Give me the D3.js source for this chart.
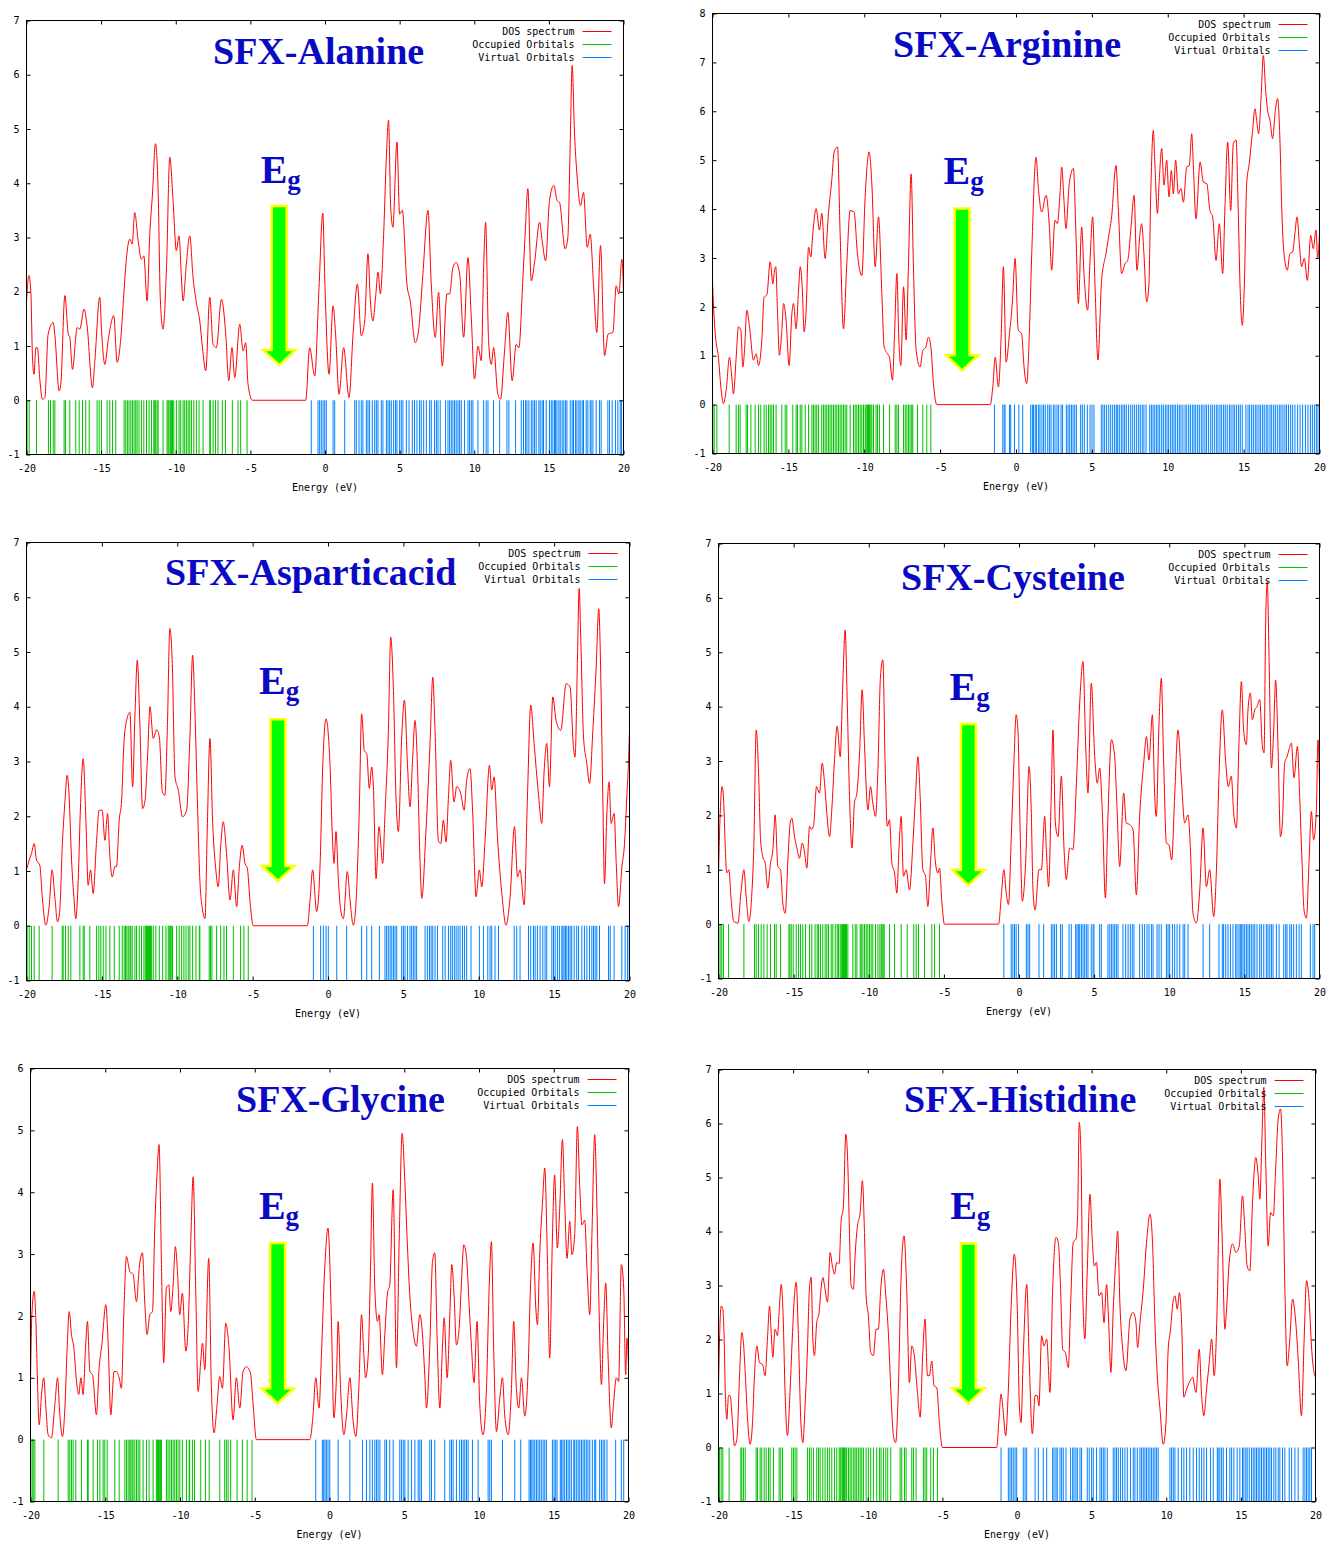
<!DOCTYPE html>
<html>
<head>
<meta charset="utf-8">
<script src="https://cdn.jsdelivr.net/npm/d3@7"></script>
<style>
  body { margin: 0; background: #fff; }
  svg { display: block; }
</style>
</head>
<body>
<svg id="chart" width="1328" height="1543"></svg>
<script>
// ---------------------------------------------------------------
// Density-of-states spectra (energy in eV, DOS in arbitrary units)
// and the orbital energies of six SFX amino-acid systems.
// ---------------------------------------------------------------

const energyTicks = [-20, -15, -10, -5, 0, 5, 10, 15, 20];
const legendLabels = ["DOS spectrum", "Occupied Orbitals", "Virtual Orbitals"];
const panelTitles = ["SFX-Alanine", "SFX-Arginine", "SFX-Asparticacid", "SFX-Cysteine", "SFX-Glycine", "SFX-Histidine"];

// ---- Alanine ----
const alanineDOS = [[-20,1.83],[-19.84,2.3],[-19.71,2.0],[-19.6,0.8],[-19.5,0.48],[-19.37,0.97],[-19.27,0.97],[-19.1,0.36],[-18.93,0.02],[-18.77,0.05],[-18.55,1.22],[-18.21,1.43],[-18.1,1.2],[-17.81,0.17],[-17.7,0.3],[-17.43,1.93],[-17.2,1.22],[-17.1,1.16],[-16.92,0.57],[-16.6,1.34],[-16.43,1.31],[-16.14,1.68],[-15.94,1.37],[-15.58,0.23],[-15.42,0.73],[-15.09,1.9],[-14.96,1.22],[-14.75,0.66],[-14.53,1.1],[-14.15,1.56],[-13.93,0.7],[-13.64,1.28],[-13.48,1.96],[-13.3,2.63],[-13.08,2.97],[-12.92,2.88],[-12.75,3.46],[-12.52,2.94],[-12.3,2.6],[-12.14,2.66],[-11.92,1.83],[-11.74,3.06],[-11.56,3.8],[-11.36,4.73],[-11.18,3.86],[-11.03,1.83],[-10.85,1.31],[-10.62,2.45],[-10.4,4.48],[-10.18,3.68],[-9.96,2.76],[-9.78,3.03],[-9.62,2.26],[-9.51,1.83],[-9.29,2.51],[-9.06,3.03],[-8.84,2.26],[-8.62,1.8],[-8.39,1.46],[-8.21,0.97],[-7.99,0.54],[-7.72,1.9],[-7.5,1.03],[-7.28,0.97],[-6.94,1.86],[-6.65,1.22],[-6.45,0.36],[-6.23,0.97],[-6.05,0.42],[-5.71,1.4],[-5.49,0.91],[-5.31,1.06],[-5.16,0.3],[-4.87,0],[-1.29,0],[-1.03,0.97],[-0.69,0.45],[-0.4,2.08],[-0.15,3.45],[0.0,2.08],[0.27,0.48],[0.54,1.74],[0.71,1.22],[0.94,0.11],[1.25,0.97],[1.61,0.05],[1.88,1.22],[2.17,2.14],[2.43,1.19],[2.66,1.46],[2.88,2.7],[3.04,1.83],[3.21,1.46],[3.39,1.9],[3.55,2.36],[3.71,1.96],[3.93,3.06],[4.11,4.48],[4.26,5.16],[4.4,3.56],[4.55,3.19],[4.82,4.76],[5.0,3.43],[5.18,3.5],[5.49,2.14],[5.71,1.83],[6.05,1.06],[6.29,1.34],[6.56,2.33],[6.9,3.5],[7.12,2.14],[7.39,1.16],[7.61,1.99],[7.86,0.63],[8.17,1.96],[8.35,1.96],[8.57,2.45],[8.79,2.54],[9.02,2.33],[9.29,1.16],[9.58,2.63],[9.8,1.53],[10.02,0.39],[10.25,1.0],[10.47,0.73],[10.63,2.45],[10.76,3.28],[10.96,1.1],[11.14,0.66],[11.3,0.97],[11.58,0.11],[11.76,0.02],[12.03,0.91],[12.25,1.62],[12.54,0.36],[12.81,1.03],[12.99,0.97],[13.26,2.26],[13.41,3.06],[13.59,3.9],[13.82,2.2],[14.04,2.54],[14.38,3.28],[14.55,2.94],[14.78,2.57],[15.04,3.68],[15.33,3.96],[15.56,3.68],[15.71,3.65],[16.09,2.79],[16.27,3.0],[16.43,4.73],[16.56,6.17],[16.72,4.91],[16.88,4.17],[17.12,3.59],[17.32,3.83],[17.57,2.82],[17.77,3.06],[17.99,2.14],[18.21,1.25],[18.46,2.85],[18.73,0.82],[18.97,1.22],[19.29,1.25],[19.51,2.11],[19.69,1.96],[19.89,2.6],[20,2.0]];
const alanineOccupied = [-19.96,-19.82,-19.33,-18.53,-18.39,-18.21,-18.10,-17.48,-17.39,-17.10,-16.70,-16.47,-16.25,-16.03,-15.80,-15.27,-15.13,-14.98,-14.60,-14.42,-14.24,-14.02,-13.46,-13.35,-13.24,-13.13,-13.01,-12.90,-12.79,-12.68,-12.59,-12.46,-12.30,-12.14,-11.96,-11.79,-11.63,-11.47,-11.41,-11.34,-11.25,-11.18,-10.85,-10.58,-10.51,-10.45,-10.36,-10.29,-10.22,-10.13,-9.96,-9.78,-9.67,-9.51,-9.40,-9.29,-9.17,-9.06,-8.95,-8.79,-8.62,-8.44,-8.17,-7.72,-7.68,-7.50,-7.34,-7.17,-6.88,-6.67,-6.21,-5.83,-5.65,-5.22];
const alanineVirtual = [-0.92,-0.47,-0.36,-0.25,-0.13,-0.02,0.09,0.54,0.65,1.32,1.99,2.10,2.28,2.43,2.54,2.77,2.88,2.99,3.17,3.33,3.44,3.55,3.77,3.88,4.11,4.22,4.33,4.44,4.60,4.73,4.82,5.00,5.11,5.22,5.45,5.63,5.85,6.00,6.16,6.34,6.45,6.61,6.79,7.01,7.12,7.34,7.46,7.57,7.72,8.08,8.24,8.35,8.46,8.57,8.68,8.79,8.91,9.02,9.13,9.35,9.58,9.69,9.80,9.91,10.25,10.63,10.80,10.92,11.29,11.70,12.19,12.32,12.77,13.15,13.30,13.44,13.53,13.66,13.82,13.93,14.04,14.15,14.33,14.42,14.55,14.64,14.82,15.04,15.16,15.27,15.38,15.45,15.54,15.67,15.76,15.89,16.00,16.12,16.21,16.43,16.56,16.65,16.79,16.88,17.01,17.10,17.23,17.32,17.50,17.61,17.77,17.83,17.95,18.17,18.39,18.50,18.95,19.06,19.24,19.46,19.62,19.78,19.87];

// ---- Arginine ----
const arginineDOS = [[-20,2.54],[-19.93,2.0],[-19.82,1.45],[-19.6,0.94],[-19.45,0.36],[-19.28,0.02],[-19.1,0.29],[-18.88,0.97],[-18.73,0.57],[-18.62,0.22],[-18.44,0.97],[-18.29,1.59],[-18.13,1.52],[-18.0,0.77],[-17.89,1.11],[-17.74,1.93],[-17.56,1.59],[-17.3,0.91],[-17.12,1.04],[-16.97,0.8],[-16.75,1.32],[-16.6,2.2],[-16.42,2.24],[-16.2,2.92],[-16.02,2.47],[-15.94,2.68],[-15.83,2.82],[-15.72,1.93],[-15.59,1.01],[-15.43,1.52],[-15.32,2.07],[-15.15,1.72],[-14.95,0.8],[-14.77,1.86],[-14.66,2.07],[-14.49,1.55],[-14.33,2.34],[-14.22,2.82],[-14.09,2.41],[-13.96,1.49],[-13.83,1.93],[-13.67,3.22],[-13.52,3.02],[-13.39,3.5],[-13.17,4.01],[-12.95,3.57],[-12.8,3.91],[-12.58,2.99],[-12.36,3.91],[-12.14,4.59],[-11.98,5.17],[-11.76,5.27],[-11.59,3.5],[-11.37,1.55],[-11.15,2.88],[-10.93,3.97],[-10.67,3.94],[-10.45,3.09],[-10.16,2.64],[-9.94,4.25],[-9.68,5.17],[-9.5,4.52],[-9.28,2.82],[-9.06,3.84],[-8.84,2.27],[-8.69,1.18],[-8.47,1.04],[-8.34,0.97],[-8.14,0.5],[-8.01,1.38],[-7.85,2.68],[-7.72,1.32],[-7.59,0.8],[-7.41,2.41],[-7.24,1.32],[-7.09,2.82],[-6.91,4.72],[-6.76,2.82],[-6.58,1.11],[-6.32,0.77],[-6.14,1.11],[-5.94,1.18],[-5.77,1.38],[-5.61,1.18],[-5.44,0.43],[-5.22,0],[-1.7,0],[-1.53,0.36],[-1.37,0.97],[-1.16,0.36],[-0.98,1.38],[-0.83,2.82],[-0.65,0.87],[-0.43,1.45],[-0.23,2.13],[-0.06,2.99],[0.15,1.52],[0.37,1.45],[0.53,0.77],[0.7,0.43],[0.88,1.45],[1.03,3.02],[1.32,5.06],[1.47,4.45],[1.69,3.94],[1.98,4.28],[2.2,3.63],[2.35,2.75],[2.57,3.77],[2.72,3.7],[2.9,4.31],[3.01,4.86],[3.16,4.18],[3.29,3.6],[3.51,4.52],[3.78,4.83],[3.95,3.5],[4.11,2.07],[4.33,3.63],[4.48,2.68],[4.72,1.93],[4.88,2.95],[5.05,3.84],[5.21,2.41],[5.4,0.91],[5.64,2.54],[5.93,3.09],[6.08,3.39],[6.3,3.84],[6.59,4.89],[6.74,4.04],[6.96,2.68],[7.18,2.88],[7.36,2.95],[7.58,3.63],[7.78,4.28],[7.97,2.75],[8.17,3.5],[8.28,3.7],[8.43,3.09],[8.61,2.1],[8.76,2.47],[8.87,4.18],[9.05,5.61],[9.16,4.86],[9.32,3.91],[9.44,4.59],[9.6,5.24],[9.75,4.49],[9.93,5.0],[10.08,4.25],[10.24,4.79],[10.37,4.31],[10.52,5.0],[10.7,4.31],[10.87,4.42],[11.03,4.14],[11.25,4.86],[11.42,4.89],[11.58,5.54],[11.69,4.86],[11.86,3.8],[12.13,4.96],[12.35,4.55],[12.57,4.52],[12.78,3.97],[12.96,3.84],[13.18,2.95],[13.4,3.7],[13.62,2.68],[13.77,4.04],[13.95,5.37],[14.15,3.97],[14.32,5.34],[14.5,5.41],[14.65,3.91],[14.76,2.47],[14.91,1.62],[15.05,2.47],[15.2,4.52],[15.37,4.93],[15.57,5.54],[15.75,6.05],[15.86,5.81],[15.99,5.54],[16.14,6.22],[16.3,7.14],[16.45,6.43],[16.58,6.02],[16.74,5.81],[16.91,5.44],[17.09,6.02],[17.24,6.26],[17.4,5.34],[17.51,4.04],[17.66,3.09],[17.88,2.75],[18.05,3.09],[18.23,3.12],[18.38,3.5],[18.52,3.84],[18.67,3.29],[18.82,2.82],[19.0,2.99],[19.2,2.54],[19.42,3.46],[19.59,3.19],[19.77,3.57],[19.88,2.99],[20,3.5]];
const arginineOccupied = [-19.98,-19.89,-19.71,-18.90,-18.44,-18.29,-18.18,-17.78,-17.69,-17.47,-17.19,-16.97,-16.82,-16.60,-16.46,-16.31,-16.20,-16.09,-15.98,-15.81,-15.43,-15.21,-15.10,-14.71,-14.49,-14.40,-14.22,-14.11,-13.89,-13.67,-13.45,-13.35,-13.24,-13.13,-13.02,-12.80,-12.69,-12.58,-12.47,-12.36,-12.25,-12.14,-12.03,-11.92,-11.81,-11.70,-11.59,-11.48,-11.37,-11.26,-11.15,-10.93,-10.71,-10.60,-10.49,-10.38,-10.27,-10.16,-10.05,-9.94,-9.87,-9.79,-9.72,-9.66,-9.57,-9.50,-9.39,-9.22,-9.13,-9.00,-8.73,-8.34,-7.96,-7.85,-7.74,-7.41,-7.30,-7.19,-7.08,-6.98,-6.87,-6.80,-6.49,-6.14,-5.88,-5.61];
const arginineVirtual = [-1.42,-0.87,-0.78,-0.72,-0.43,-0.35,-0.1,0.19,0.44,0.97,1.08,1.16,1.27,1.36,1.49,1.58,1.71,1.82,1.93,2.09,2.20,2.31,2.46,2.57,2.70,2.81,2.97,3.07,3.32,3.43,3.54,3.65,3.76,3.87,3.98,4.26,4.37,4.50,4.70,4.88,5.01,5.14,5.62,5.73,5.84,5.97,6.11,6.24,6.37,6.50,6.61,6.70,6.81,6.94,7.05,7.16,7.27,7.42,7.56,7.69,7.82,7.95,8.08,8.19,8.32,8.43,8.57,8.81,8.92,9.03,9.14,9.25,9.36,9.47,9.60,9.71,9.84,9.95,10.06,10.19,10.30,10.41,10.52,10.65,10.76,10.87,11.00,11.14,11.25,11.38,11.49,11.62,11.73,11.84,11.97,12.08,12.21,12.32,12.45,12.56,12.69,12.83,12.94,13.07,13.20,13.31,13.44,13.55,13.68,13.79,13.92,14.06,14.17,14.30,14.41,14.54,14.67,14.78,14.91,15.15,15.29,15.40,15.53,15.64,15.77,15.88,16.01,16.12,16.25,16.36,16.49,16.60,16.74,16.85,16.98,17.09,17.22,17.35,17.46,17.59,17.72,17.83,17.96,18.10,18.23,18.38,18.56,18.72,18.89,19.07,19.24,19.40,19.53,19.66,19.79,19.90];

// ---- Aspartic acid ----
const asparticDOS = [[-20,1.02],[-19.82,1.2],[-19.67,1.32],[-19.49,1.5],[-19.34,1.2],[-19.12,1.11],[-18.94,0.47],[-18.72,0.01],[-18.5,0.35],[-18.3,1.02],[-18.12,0.53],[-17.94,0.07],[-17.79,0.29],[-17.63,1.44],[-17.46,2.23],[-17.3,2.75],[-17.17,2.35],[-17.01,1.2],[-16.86,0.53],[-16.73,0.13],[-16.57,0.83],[-16.42,2.17],[-16.24,3.05],[-16.06,1.93],[-15.91,0.74],[-15.75,1.02],[-15.58,0.59],[-15.35,1.56],[-15.18,2.11],[-14.98,2.11],[-14.8,1.56],[-14.62,2.05],[-14.47,1.26],[-14.31,0.89],[-14.14,1.08],[-14.03,1.08],[-13.85,1.93],[-13.69,2.29],[-13.54,3.33],[-13.36,3.75],[-13.14,3.9],[-12.96,2.54],[-12.81,3.81],[-12.65,4.85],[-12.48,3.69],[-12.3,2.14],[-12.15,2.26],[-11.97,3.08],[-11.81,4.0],[-11.59,3.42],[-11.37,3.58],[-11.19,3.45],[-10.99,2.45],[-10.82,2.38],[-10.66,3.57],[-10.49,5.43],[-10.33,4.79],[-10.15,2.72],[-9.93,2.48],[-9.65,1.99],[-9.38,2.11],[-9.16,3.45],[-8.98,4.94],[-8.83,3.94],[-8.67,2.35],[-8.5,0.83],[-8.32,0.29],[-8.16,0.13],[-8.01,1.75],[-7.83,3.42],[-7.65,1.87],[-7.46,1.08],[-7.28,0.71],[-7.12,1.44],[-6.95,1.9],[-6.73,1.32],[-6.5,0.47],[-6.28,1.02],[-6.06,0.35],[-5.88,1.08],[-5.69,1.47],[-5.51,1.14],[-5.35,1.05],[-5.18,0.47],[-4.96,0],[-1.37,0],[-1.19,0.47],[-1.02,1.02],[-0.75,0.26],[-0.53,1.08],[-0.35,2.9],[-0.13,3.78],[0.13,2.96],[0.31,1.5],[0.4,1.14],[0.53,1.72],[0.69,0.83],[0.84,0.29],[1.02,0.13],[1.28,0.99],[1.46,0.47],[1.68,0.01],[1.9,0.65],[2.08,2.17],[2.23,3.87],[2.41,3.2],[2.57,3.14],[2.74,2.51],[2.9,2.9],[3.01,2.54],[3.19,0.86],[3.38,1.81],[3.63,1.14],[3.78,2.05],[4.0,3.51],[4.16,5.27],[4.34,4.3],[4.51,2.35],[4.67,1.72],[4.89,3.45],[5.07,4.12],[5.27,2.96],[5.44,2.17],[5.62,3.08],[5.77,3.75],[5.93,2.96],[6.11,1.14],[6.22,0.5],[6.5,1.75],[6.77,3.33],[6.95,4.54],[7.1,3.57],[7.32,1.56],[7.48,1.5],[7.65,1.93],[7.83,1.53],[7.99,2.35],[8.14,3.02],[8.36,2.26],[8.54,2.54],[8.81,2.41],[9.03,2.11],[9.2,2.66],[9.42,2.87],[9.6,2.05],[9.82,0.53],[10.04,1.02],[10.2,0.71],[10.42,1.56],[10.71,2.93],[10.86,2.48],[11.02,2.72],[11.24,1.62],[11.53,0.59],[11.81,0.01],[12.08,0.53],[12.37,1.81],[12.57,0.89],[12.74,1.02],[13.01,0.38],[13.23,2.35],[13.45,4.03],[13.67,3.33],[13.96,2.41],[14.18,1.87],[14.34,2.84],[14.51,3.33],[14.69,2.54],[14.91,4.18],[15.13,3.75],[15.44,3.57],[15.8,4.42],[16.06,4.36],[16.28,3.27],[16.39,3.08],[16.55,4.91],[16.66,6.16],[16.77,5.21],[16.95,3.45],[17.17,2.96],[17.35,2.6],[17.57,3.57],[17.79,4.73],[17.96,5.79],[18.12,4.18],[18.23,2.35],[18.34,0.77],[18.5,2.05],[18.65,2.63],[18.78,1.87],[18.98,2.05],[19.12,1.14],[19.27,0.35],[19.5,1.08],[19.67,1.5],[19.82,2.35],[19.93,2.96],[20,3.57]];
const asparticOccupied = [-19.96,-19.82,-19.67,-19.49,-19.16,-18.30,-17.63,-17.57,-17.41,-17.23,-17.06,-16.46,-16.24,-16.17,-15.80,-15.35,-15.20,-15.07,-14.91,-14.73,-14.47,-14.18,-13.85,-13.65,-13.52,-13.43,-13.34,-13.25,-13.14,-13.08,-12.99,-12.81,-12.70,-12.52,-12.37,-12.21,-12.12,-12.04,-11.97,-11.90,-11.84,-11.77,-11.70,-11.59,-11.42,-11.19,-10.97,-10.75,-10.60,-10.53,-10.46,-10.40,-10.31,-10.04,-9.87,-9.71,-9.56,-9.42,-9.27,-9.16,-8.98,-8.76,-8.54,-8.50,-7.88,-7.79,-7.70,-7.39,-7.12,-6.90,-6.73,-6.28,-5.80,-5.58,-5.29];
const asparticVirtual = [-0.97,-0.49,-0.31,-0.13,0.02,0.58,1.24,2.23,2.57,2.90,3.41,3.78,3.89,4.00,4.12,4.23,4.34,4.45,4.56,4.89,5.00,5.11,5.27,5.44,5.55,5.66,5.77,5.88,6.44,6.59,6.73,6.84,6.95,7.10,7.26,7.61,7.77,7.99,8.14,8.25,8.38,8.50,8.63,8.76,8.92,9.05,9.20,9.49,10.04,10.31,10.60,10.75,10.86,11.08,11.31,12.35,12.52,12.74,13.30,13.45,13.63,13.74,13.89,14.07,14.25,14.40,14.51,14.85,14.96,15.07,15.22,15.35,15.51,15.58,15.66,15.75,15.84,15.95,16.06,16.17,16.33,16.50,16.62,16.84,17.01,17.17,17.35,17.50,17.61,17.72,17.83,18.01,18.61,18.72,18.98,19.49,19.71,19.87,19.98];

// ---- Cysteine ----
const cysteineDOS = [[-20,0.88],[-19.91,1.86],[-19.76,2.53],[-19.65,2.23],[-19.56,1.49],[-19.45,0.94],[-19.31,1.0],[-19.16,0.45],[-18.98,0.05],[-18.71,0.02],[-18.49,0.63],[-18.31,1.0],[-18.16,0.51],[-17.98,0.05],[-17.78,0.57],[-17.65,1.43],[-17.49,3.57],[-17.34,2.84],[-17.2,1.55],[-17.05,1.24],[-16.89,1.12],[-16.72,0.66],[-16.54,1.12],[-16.38,1.37],[-16.23,2.01],[-16.05,1.06],[-15.87,1.0],[-15.72,0.39],[-15.56,0.2],[-15.38,1.18],[-15.23,1.86],[-15.12,1.95],[-14.94,1.61],[-14.76,1.37],[-14.61,1.21],[-14.43,1.49],[-14.28,1.34],[-14.12,1.03],[-13.94,1.8],[-13.79,1.74],[-13.65,1.86],[-13.48,2.53],[-13.28,2.41],[-13.1,2.96],[-12.94,2.59],[-12.79,2.04],[-12.61,1.61],[-12.46,2.1],[-12.28,3.02],[-12.1,3.64],[-11.9,3.08],[-11.72,4.49],[-11.57,5.41],[-11.44,4.19],[-11.28,2.35],[-11.12,1.4],[-10.95,2.23],[-10.79,2.41],[-10.61,3.15],[-10.44,4.31],[-10.28,3.27],[-10.06,2.1],[-9.88,2.53],[-9.73,2.23],[-9.55,1.98],[-9.39,2.84],[-9.22,4.56],[-9.06,4.86],[-8.91,2.96],[-8.77,1.8],[-8.62,1.92],[-8.46,1.12],[-8.28,0.94],[-8.13,0.57],[-7.99,1.37],[-7.84,1.98],[-7.69,0.88],[-7.51,1.0],[-7.29,0.63],[-7.06,1.49],[-6.89,2.35],[-6.73,3.08],[-6.58,2.35],[-6.4,1.0],[-6.22,0.88],[-6.07,0.32],[-5.89,1.12],[-5.73,1.77],[-5.58,1.18],[-5.4,0.94],[-5.29,1.03],[-5.13,0.39],[-4.96,0],[-1.36,0],[-1.18,0.51],[-1.01,1.0],[-0.85,0.57],[-0.7,0.36],[-0.52,1.55],[-0.34,2.96],[-0.19,3.85],[-0.07,3.57],[0.09,1.55],[0.22,0.42],[0.44,1.12],[0.67,2.9],[0.82,2.04],[0.93,0.63],[1.07,0.26],[1.33,1.0],[1.49,1.0],[1.71,1.98],[1.82,1.37],[1.97,0.69],[2.15,2.41],[2.26,3.57],[2.42,1.86],[2.6,1.61],[2.82,2.72],[3.0,1.37],[3.15,0.82],[3.37,1.4],[3.59,1.37],[3.82,2.59],[4.04,4.07],[4.26,4.83],[4.44,3.27],[4.59,2.41],[4.81,4.43],[5.04,3.08],[5.21,2.59],[5.37,2.87],[5.55,2.04],[5.75,0.48],[5.92,1.98],[6.15,3.39],[6.37,3.08],[6.52,2.16],[6.7,1.06],[6.97,2.41],[7.14,1.86],[7.37,1.83],[7.59,1.74],[7.81,0.54],[8.03,1.98],[8.3,2.96],[8.48,3.45],[8.65,3.02],[8.88,3.85],[9.03,2.35],[9.14,1.98],[9.32,3.7],[9.47,4.52],[9.63,2.96],[9.81,1.49],[9.98,1.46],[10.16,1.18],[10.36,2.35],[10.58,3.57],[10.81,2.65],[11.03,1.86],[11.25,2.01],[11.4,1.43],[11.58,0.2],[11.8,0.02],[12.03,0.63],[12.25,1.77],[12.47,0.69],[12.69,1.0],[12.96,0.14],[13.14,1.0],[13.31,2.72],[13.53,3.94],[13.76,2.96],[13.93,2.53],[14.13,2.72],[14.29,2.04],[14.47,1.77],[14.64,3.33],[14.8,4.46],[14.95,3.57],[15.13,3.3],[15.24,3.94],[15.4,4.25],[15.53,3.76],[15.69,3.94],[15.84,4.0],[16.02,4.13],[16.2,3.27],[16.31,3.15],[16.42,5.6],[16.53,6.3],[16.64,4.92],[16.8,2.87],[16.95,3.57],[17.08,4.49],[17.24,3.27],[17.4,1.61],[17.53,1.86],[17.68,2.96],[17.84,3.08],[17.97,3.21],[18.13,3.33],[18.3,2.69],[18.53,3.27],[18.68,2.35],[18.84,1.12],[18.97,0.26],[19.13,0.11],[19.3,1.12],[19.46,2.07],[19.61,1.55],[19.79,2.1],[19.9,3.39],[20,2.59]];
const cysteineOccupied = [-19.98,-19.89,-19.78,-19.67,-19.33,-18.31,-17.60,-17.49,-17.34,-17.16,-16.98,-16.76,-16.54,-16.27,-16.16,-15.87,-15.31,-15.25,-15.16,-15.03,-14.83,-14.67,-14.54,-14.39,-14.21,-13.94,-13.79,-13.57,-13.43,-13.34,-13.21,-13.06,-12.90,-12.79,-12.68,-12.50,-12.39,-12.23,-12.10,-12.01,-11.90,-11.83,-11.75,-11.68,-11.61,-11.55,-11.48,-11.39,-11.06,-10.90,-10.79,-10.57,-10.50,-10.39,-10.28,-10.17,-10.06,-9.95,-9.84,-9.73,-9.55,-9.39,-9.26,-9.17,-9.11,-9.04,-8.97,-8.62,-8.28,-7.84,-7.44,-7.00,-6.84,-6.69,-6.29,-5.80,-5.62,-5.29];
const cysteineVirtual = [-1.01,-0.52,-0.41,-0.30,-0.19,-0.03,0.49,0.60,0.71,1.33,1.64,2.15,2.26,2.37,2.49,2.77,2.88,3.33,3.48,3.77,3.86,3.95,4.04,4.15,4.26,4.37,4.48,4.59,4.81,4.93,4.99,5.37,5.48,5.92,6.04,6.15,6.26,6.37,6.48,6.59,6.92,7.10,7.26,7.41,7.54,7.65,8.03,8.21,8.36,8.52,8.65,8.81,8.92,9.19,9.32,9.47,9.81,9.92,10.03,10.21,10.36,10.52,10.70,10.92,11.03,11.25,12.25,12.69,13.31,13.53,13.62,13.76,13.91,14.07,14.24,14.42,14.51,14.64,14.73,14.82,14.91,15.02,15.13,15.24,15.35,15.46,15.58,15.69,15.84,16.02,16.13,16.29,16.46,16.57,16.69,16.80,16.91,17.13,17.31,17.62,17.75,17.84,18.02,18.13,18.28,18.46,18.64,18.79,19.39,19.57,19.68];

// ---- Glycine ----
const glycineDOS = [[-20,0.94],[-19.91,2.02],[-19.75,2.4],[-19.64,1.91],[-19.55,1.1],[-19.42,0.24],[-19.26,0.73],[-19.11,1.0],[-18.97,0.51],[-18.82,0.08],[-18.6,0.03],[-18.37,0.57],[-18.19,1.0],[-18.04,0.4],[-17.86,0.05],[-17.7,0.51],[-17.55,1.48],[-17.41,2.07],[-17.26,1.7],[-17.1,1.48],[-16.92,0.94],[-16.77,0.73],[-16.63,1.0],[-16.48,0.73],[-16.32,1.48],[-16.19,1.91],[-16.03,1.1],[-15.85,1.05],[-15.59,0.4],[-15.41,1.16],[-15.23,1.53],[-14.96,2.18],[-14.81,1.59],[-14.63,0.4],[-14.41,1.1],[-14.25,1.1],[-14.07,1.0],[-13.92,0.83],[-13.76,2.02],[-13.58,2.96],[-13.36,2.72],[-13.14,2.67],[-12.91,2.23],[-12.73,2.77],[-12.51,3.02],[-12.36,2.23],[-12.2,1.7],[-12.02,2.02],[-11.84,2.07],[-11.69,3.42],[-11.53,4.33],[-11.4,4.77],[-11.24,2.83],[-11.09,1.24],[-10.91,2.45],[-10.75,2.5],[-10.62,2.07],[-10.46,2.5],[-10.31,3.12],[-10.17,2.72],[-10.02,2.02],[-9.84,2.37],[-9.61,1.43],[-9.46,1.8],[-9.28,3.2],[-9.12,4.25],[-8.95,2.45],[-8.79,0.78],[-8.61,1.27],[-8.5,1.56],[-8.34,1.13],[-8.08,2.93],[-7.9,0.83],[-7.72,0.11],[-7.52,0.57],[-7.34,1.02],[-7.16,0.83],[-6.94,1.88],[-6.72,1.48],[-6.45,0.32],[-6.23,1.0],[-6.0,0.51],[-5.78,1.1],[-5.56,1.18],[-5.29,1.08],[-5.11,0.57],[-4.89,0],[-1.32,0],[-1.1,0.4],[-0.92,1.0],[-0.7,0.51],[-0.54,1.37],[-0.32,2.77],[-0.1,3.42],[0.13,1.91],[0.29,0.35],[0.47,1.05],[0.58,1.91],[0.74,0.83],[0.96,0.08],[1.14,0.4],[1.36,1.0],[1.58,0.3],[1.76,0.05],[1.98,0.94],[2.14,2.02],[2.3,1.37],[2.41,1.0],[2.59,1.37],[2.74,2.72],[2.87,4.15],[3.03,2.45],[3.21,1.91],[3.32,2.02],[3.54,1.05],[3.7,1.7],[3.88,2.37],[4.03,2.5],[4.26,4.04],[4.48,1.16],[4.66,3.2],[4.86,4.95],[5.04,4.17],[5.19,3.26],[5.37,2.34],[5.59,1.75],[5.82,1.51],[6.04,2.02],[6.22,1.7],[6.37,1.05],[6.49,0.51],[6.71,1.53],[6.89,2.88],[7.04,3.02],[7.2,1.64],[7.38,0.51],[7.56,1.53],[7.67,1.97],[7.87,1.0],[8.05,2.02],[8.18,2.83],[8.33,2.34],[8.49,1.53],[8.67,1.8],[8.83,2.56],[8.98,3.15],[9.16,2.96],[9.34,2.18],[9.49,1.53],[9.67,0.92],[9.87,1.91],[10.05,0.57],[10.27,0.08],[10.5,0.83],[10.68,2.45],[10.83,3.2],[10.99,1.37],[11.17,0.13],[11.39,0.67],[11.57,1.0],[11.72,0.4],[11.95,0.08],[12.17,0.83],[12.32,1.91],[12.5,0.83],[12.66,0.51],[12.84,1.0],[13.06,0.38],[13.28,1.1],[13.44,2.45],[13.62,3.18],[13.8,2.13],[13.91,1.86],[14.06,2.99],[14.24,3.8],[14.4,4.39],[14.57,2.99],[14.73,1.32],[14.91,3.26],[15.06,4.28],[15.24,3.1],[15.4,3.74],[15.58,4.85],[15.73,3.85],[15.89,2.93],[16.07,3.53],[16.22,2.99],[16.4,3.31],[16.58,5.06],[16.74,4.07],[16.89,3.47],[17.07,3.55],[17.23,2.72],[17.41,2.02],[17.56,3.37],[17.74,4.93],[17.9,3.63],[18.03,2.13],[18.19,0.89],[18.34,1.91],[18.48,2.53],[18.63,1.37],[18.85,0.19],[19.01,0.62],[19.19,1.0],[19.34,0.94],[19.52,2.83],[19.68,2.45],[19.81,1.05],[19.9,1.64],[20,1.21]];
const glycineOccupied = [-19.98,-19.89,-19.82,-19.71,-19.11,-18.15,-17.48,-17.37,-17.26,-17.15,-16.97,-16.59,-16.19,-16.14,-15.81,-15.52,-15.36,-15.14,-15.03,-14.87,-14.36,-14.07,-13.69,-13.58,-13.47,-13.36,-13.29,-13.20,-13.14,-13.02,-12.91,-12.80,-12.69,-12.47,-12.24,-12.07,-11.80,-11.58,-11.51,-11.44,-11.38,-11.31,-11.24,-10.91,-10.80,-10.68,-10.57,-10.46,-10.35,-10.24,-10.13,-10.01,-9.84,-9.57,-9.39,-9.35,-9.17,-9.03,-8.61,-8.30,-8.05,-7.34,-7.01,-6.90,-6.78,-6.61,-6.18,-5.83,-5.51,-5.18];
const glycineVirtual = [-0.92,-0.48,-0.39,-0.30,-0.21,-0.10,0.02,0.58,1.36,2.21,2.47,2.70,2.87,3.03,3.14,3.25,3.37,3.70,3.81,4.03,4.26,4.70,4.81,4.93,5.04,5.26,5.48,5.71,5.93,6.04,6.15,6.71,6.82,7.04,7.71,8.05,8.16,8.27,8.49,8.71,8.83,8.94,9.05,9.16,9.27,9.56,9.94,10.61,10.72,10.83,11.57,12.39,12.79,13.35,13.44,13.53,13.62,13.73,13.84,13.95,14.06,14.17,14.29,14.40,14.51,14.91,15.02,15.13,15.22,15.44,15.53,15.62,15.73,15.85,15.96,16.07,16.18,16.34,16.40,16.51,16.63,16.74,16.85,16.96,17.07,17.18,17.29,17.41,17.58,17.74,17.81,18.07,18.19,18.30,18.41,18.56,19.14,19.52,19.68];

// ---- Histidine ----
const histidineDOS = [[-20,1.08],[-19.93,2.01],[-19.82,2.62],[-19.71,2.56],[-19.62,2.01],[-19.55,1.08],[-19.44,0.52],[-19.33,0.96],[-19.22,0.96],[-19.06,0.46],[-18.93,0.03],[-18.77,0.15],[-18.59,1.33],[-18.44,2.13],[-18.33,1.94],[-18.21,1.39],[-18.04,0.46],[-17.88,0.06],[-17.72,0.46],[-17.59,1.33],[-17.43,1.88],[-17.25,1.57],[-17.05,1.54],[-16.88,1.33],[-16.72,2.01],[-16.58,2.62],[-16.47,2.13],[-16.36,1.67],[-16.21,2.19],[-16.05,2.07],[-15.94,2.5],[-15.8,3.02],[-15.67,2.44],[-15.54,1.02],[-15.38,0.22],[-15.2,1.08],[-15.04,2.13],[-14.91,2.81],[-14.8,3.06],[-14.64,2.01],[-14.49,0.52],[-14.35,0.09],[-14.2,0.77],[-14.04,1.82],[-13.91,2.93],[-13.79,3.15],[-13.68,2.01],[-13.57,1.7],[-13.42,2.31],[-13.26,2.5],[-13.13,2.93],[-13.01,3.15],[-12.86,2.93],[-12.7,2.69],[-12.52,3.61],[-12.37,3.36],[-12.23,3.21],[-12.08,3.43],[-11.92,3.4],[-11.79,4.17],[-11.63,4.48],[-11.47,5.8],[-11.34,5.28],[-11.23,4.04],[-11.12,3.0],[-10.96,2.93],[-10.85,3.55],[-10.69,4.1],[-10.51,4.35],[-10.36,4.94],[-10.22,3.98],[-10.11,2.81],[-9.96,2.44],[-9.8,1.76],[-9.62,1.7],[-9.44,2.19],[-9.29,2.19],[-9.13,2.93],[-8.95,3.3],[-8.79,2.81],[-8.62,2.13],[-8.44,0.96],[-8.28,0.22],[-8.13,0.09],[-7.95,1.08],[-7.77,3.12],[-7.57,3.92],[-7.39,2.93],[-7.21,1.2],[-7.05,1.88],[-6.88,1.7],[-6.67,1.02],[-6.49,0.56],[-6.32,1.7],[-6.16,2.38],[-6.0,1.33],[-5.87,1.33],[-5.71,1.6],[-5.56,1.14],[-5.38,1.11],[-5.2,0.46],[-5.0,0],[-1.36,0],[-1.21,0.52],[-1.07,0.99],[-0.92,0.65],[-0.76,0.22],[-0.58,1.08],[-0.4,2.56],[-0.18,3.58],[0.02,2.56],[0.16,0.77],[0.27,0.46],[0.42,1.7],[0.65,3.02],[0.83,1.51],[1.03,0.25],[1.21,0.96],[1.36,0.96],[1.47,0.77],[1.65,2.07],[1.81,1.88],[1.99,2.01],[2.21,1.02],[2.39,2.93],[2.61,3.89],[2.77,3.8],[2.92,2.93],[3.06,1.82],[3.24,1.76],[3.44,1.48],[3.59,2.62],[3.77,3.8],[3.95,3.86],[4.06,4.29],[4.17,6.02],[4.29,5.4],[4.4,2.93],[4.55,2.01],[4.71,3.3],[4.89,4.69],[5.04,3.86],[5.18,3.36],[5.33,3.43],[5.49,2.81],[5.67,2.87],[5.83,2.31],[6.0,3.02],[6.16,2.19],[6.29,1.39],[6.45,2.56],[6.63,3.55],[6.74,4.01],[6.9,2.62],[7.08,1.82],[7.3,1.42],[7.57,2.38],[7.79,2.5],[7.97,2.31],[8.08,1.85],[8.24,2.31],[8.46,2.93],[8.68,3.8],[8.91,4.32],[9.08,3.8],[9.24,2.31],[9.4,1.33],[9.58,0.71],[9.8,0.06],[9.98,0.46],[10.13,1.82],[10.29,2.19],[10.42,2.62],[10.58,2.81],[10.74,2.56],[10.88,2.87],[11.03,2.31],[11.18,0.93],[11.36,1.08],[11.59,1.23],[11.76,1.3],[11.99,1.02],[12.21,1.82],[12.37,0.96],[12.52,0.59],[12.7,1.08],[12.88,1.57],[13.04,2.01],[13.21,1.33],[13.42,2.69],[13.59,4.97],[13.75,3.86],[13.93,2.19],[14.04,2.56],[14.22,3.43],[14.44,3.77],[14.67,3.61],[14.89,3.73],[15.11,4.66],[15.27,4.04],[15.42,3.36],[15.6,3.27],[15.78,4.54],[16.0,5.37],[16.16,5.03],[16.27,4.6],[16.41,5.71],[16.54,6.67],[16.67,5.22],[16.83,3.73],[16.99,4.35],[17.17,4.29],[17.34,5.22],[17.5,6.08],[17.66,6.27],[17.79,5.4],[17.95,2.93],[18.1,1.51],[18.28,2.01],[18.46,2.75],[18.68,2.31],[18.84,1.64],[19.06,0.59],[19.24,2.01],[19.4,3.09],[19.58,2.69],[19.73,1.88],[19.84,1.51],[20,1.3]];
const histidineOccupied = [-19.93,-19.82,-19.71,-19.29,-18.50,-18.44,-18.33,-18.21,-17.48,-17.39,-17.21,-17.10,-16.94,-16.81,-16.65,-16.54,-16.32,-15.94,-15.83,-15.71,-15.09,-14.98,-14.87,-14.75,-14.04,-13.91,-13.79,-13.64,-13.42,-13.30,-13.19,-13.01,-12.86,-12.70,-12.57,-12.41,-12.23,-12.08,-11.92,-11.85,-11.79,-11.70,-11.63,-11.56,-11.47,-11.41,-11.29,-11.18,-11.07,-10.94,-10.85,-10.74,-10.63,-10.51,-10.40,-10.29,-10.11,-9.96,-9.80,-9.62,-9.40,-9.22,-9.11,-8.95,-8.79,-8.66,-8.46,-7.83,-7.72,-7.54,-7.43,-7.05,-6.94,-6.76,-6.27,-6.16,-6.05,-5.78,-5.60,-5.33];
const histidineVirtual = [-1.07,-0.58,-0.47,-0.36,-0.25,-0.13,-0.02,0.42,0.54,0.65,1.21,1.43,1.76,1.99,2.39,2.48,2.61,2.70,2.88,2.99,3.10,3.28,3.59,3.73,3.82,3.95,4.04,4.22,4.33,4.71,4.84,5.00,5.11,5.33,5.56,5.67,5.78,5.89,6.05,6.45,6.56,6.67,6.79,6.94,7.08,7.23,7.39,7.61,7.79,7.90,8.06,8.24,8.35,8.46,8.57,8.68,8.79,8.91,9.02,9.13,9.24,9.35,9.46,10.25,10.36,10.47,10.58,10.80,11.03,11.18,11.36,11.58,11.81,12.03,12.21,12.37,12.52,12.70,12.97,13.15,13.42,13.48,13.59,13.71,13.82,14.04,14.26,14.38,14.53,14.75,14.93,15.11,15.20,15.33,15.42,15.56,15.71,15.83,15.94,16.05,16.16,16.27,16.38,16.50,16.61,16.72,16.83,16.94,17.05,17.21,17.34,17.50,17.61,17.79,17.95,18.24,18.40,18.62,18.84,19.17,19.29,19.40,19.51,19.62,19.73];

// ---------------------------------------------------------------
// Layout: plot frames (px), y-axis ranges and gap annotations
// (arrow and E_g label placed in data coordinates).
// ---------------------------------------------------------------
const panels = [
  { key: "ala", title: panelTitles[0], dos: alanineDOS, occ: alanineOccupied, virt: alanineVirtual, yMax: 7,
    box: { left: 26.5, right: 623.5, top: 20.5, bottom: 454.5 }, titlePos: [213, 64],
    arrow: { e: -3.07, top: 3.58, tip: 0.62 }, eg: [-4.31, 4.01] },
  { key: "arg", title: panelTitles[1], dos: arginineDOS, occ: arginineOccupied, virt: arginineVirtual, yMax: 8,
    box: { left: 712.5, right: 1319.5, top: 13.5, bottom: 453.5 }, titlePos: [893, 57],
    arrow: { e: -3.55, top: 4.01, tip: 0.67 }, eg: [-4.78, 4.52] },
  { key: "asp", title: panelTitles[2], dos: asparticDOS, occ: asparticOccupied, virt: asparticVirtual, yMax: 7,
    box: { left: 26.5, right: 629.5, top: 542.5, bottom: 980.5 }, titlePos: [165, 585],
    arrow: { e: -3.32, top: 3.77, tip: 0.79 }, eg: [-4.57, 4.23] },
  { key: "cys", title: panelTitles[3], dos: cysteineDOS, occ: cysteineOccupied, virt: cysteineVirtual, yMax: 7,
    box: { left: 718.5, right: 1319.5, top: 543.5, bottom: 978.5 }, titlePos: [901, 590],
    arrow: { e: -3.37, top: 3.68, tip: 0.69 }, eg: [-4.62, 4.13] },
  { key: "gly", title: panelTitles[4], dos: glycineDOS, occ: glycineOccupied, virt: glycineVirtual, yMax: 6,
    box: { left: 30.5, right: 628.5, top: 1068.5, bottom: 1501.5 }, titlePos: [236, 1112],
    arrow: { e: -3.47, top: 3.18, tip: 0.56 }, eg: [-4.72, 3.57] },
  { key: "his", title: panelTitles[5], dos: histidineDOS, occ: histidineOccupied, virt: histidineVirtual, yMax: 7,
    box: { left: 718.5, right: 1315.5, top: 1069.5, bottom: 1501.5 }, titlePos: [904, 1112],
    arrow: { e: -3.26, top: 3.78, tip: 0.79 }, eg: [-4.48, 4.24] }
];

const colors = { dos: "#ff0000", occ: "#00c000", virt: "#0080ff", title: "#0a0ac4", arrowFill: "#00ff00", arrowEdge: "#ffff00" };
const monoFont = "'DejaVu Sans Mono', 'Liberation Mono', monospace";
const serifFont = "'Liberation Serif', 'Times New Roman', serif";

const svg = d3.select("#chart");
const defs = svg.append("defs");

function drawPanel(p) {
  const b = p.box;
  const g = svg.append("g").attr("class", "panel-" + p.key);
  const x = d3.scaleLinear().domain([-20, 20]).range([b.left, b.right]);
  const y = d3.scaleLinear().domain([-1, p.yMax]).range([b.bottom, b.top]);

  defs.append("clipPath").attr("id", "clip-" + p.key)
    .append("rect").attr("x", b.left).attr("y", b.top)
    .attr("width", b.right - b.left).attr("height", b.bottom - b.top);

  const plot = g.append("g").attr("clip-path", `url(#clip-${p.key})`);

  // DOS curve
  plot.append("path").datum(p.dos)
    .attr("fill", "none").attr("stroke", colors.dos).attr("stroke-width", 1)
    .attr("d", d3.line().x(d => x(d[0])).y(d => y(d[1])).curve(d3.curveMonotoneX));

  // occupied and virtual orbital sticks in the band below zero
  plot.selectAll("line.occ").data(p.occ).join("line").attr("class", "occ")
    .attr("x1", d => x(d)).attr("x2", d => x(d)).attr("y1", y(0)).attr("y2", y(-1))
    .attr("stroke", colors.occ).attr("stroke-width", 1);
  plot.selectAll("line.virt").data(p.virt).join("line").attr("class", "virt")
    .attr("x1", d => x(d)).attr("x2", d => x(d)).attr("y1", y(0)).attr("y2", y(-1))
    .attr("stroke", colors.virt).attr("stroke-width", 1);

  // axes: inward ticks on all four sides, labels on left and bottom
  const yTicks = d3.range(-1, p.yMax + 1);
  const fmt = d => String(d);
  const styleAxis = sel => {
    sel.select(".domain").remove();
    sel.attr("font-family", monoFont).attr("font-size", 10);
    sel.selectAll(".tick line").attr("stroke", "#000");
    sel.selectAll(".tick text").attr("fill", "#000");
  };
  g.append("g").attr("transform", `translate(${b.left},0)`)
    .call(d3.axisLeft(y).tickValues(yTicks).tickSize(-4).tickPadding(7).tickFormat(fmt)).call(styleAxis);
  g.append("g").attr("transform", `translate(${b.right},0)`)
    .call(d3.axisRight(y).tickValues(yTicks).tickSize(-4).tickFormat("")).call(styleAxis);
  g.append("g").attr("transform", `translate(0,${b.bottom})`)
    .call(d3.axisBottom(x).tickValues(energyTicks).tickSize(-4).tickPadding(10).tickFormat(fmt)).call(styleAxis);
  g.append("g").attr("transform", `translate(0,${b.top})`)
    .call(d3.axisTop(x).tickValues(energyTicks).tickSize(-4).tickFormat("")).call(styleAxis);

  g.append("rect").attr("x", b.left).attr("y", b.top)
    .attr("width", b.right - b.left).attr("height", b.bottom - b.top)
    .attr("fill", "none").attr("stroke", "#000").attr("stroke-width", 1);

  g.append("text").attr("x", (b.left + b.right) / 2).attr("y", b.bottom + 36)
    .attr("text-anchor", "middle").attr("font-family", monoFont).attr("font-size", 10)
    .attr("fill", "#000").text("Energy (eV)");

  // legend (top right)
  const legendColors = [colors.dos, colors.occ, colors.virt];
  legendLabels.forEach((lab, i) => {
    const ly = b.top + 10.5 + i * 13.2;
    g.append("text").attr("x", b.right - 49).attr("y", ly).attr("dy", "0.35em")
      .attr("text-anchor", "end").attr("font-family", monoFont).attr("font-size", 10)
      .attr("fill", "#000").text(lab);
    g.append("line").attr("x1", b.right - 41).attr("x2", b.right - 12)
      .attr("y1", Math.round(ly) + 0.5).attr("y2", Math.round(ly) + 0.5)
      .attr("stroke", legendColors[i]).attr("stroke-width", 1);
  });

  // title
  g.append("text").attr("x", p.titlePos[0]).attr("y", p.titlePos[1])
    .attr("font-family", serifFont).attr("font-weight", "bold").attr("font-size", 38)
    .attr("fill", colors.title).text(p.title);

  // band-gap arrow
  const cx = x(p.arrow.e), yTop = y(p.arrow.top), yTip = y(p.arrow.tip) - 1.5, yBase = yTip - 15;
  const shaft = 7.5, head = 16;
  const pts = [[cx - shaft, yTop], [cx + shaft, yTop], [cx + shaft, yBase], [cx + head, yBase],
               [cx, yTip], [cx - head, yBase], [cx - shaft, yBase]];
  g.append("path").attr("d", "M" + pts.map(q => q.join(",")).join("L") + "Z")
    .attr("fill", colors.arrowFill).attr("stroke", colors.arrowEdge)
    .attr("stroke-width", 2.5).attr("stroke-linejoin", "miter");

  // E_g label
  const eg = g.append("text").attr("x", x(p.eg[0])).attr("y", y(p.eg[1]))
    .attr("font-family", serifFont).attr("font-weight", "bold").attr("font-size", 40)
    .attr("fill", colors.title);
  eg.append("tspan").text("E");
  eg.append("tspan").attr("font-size", 27).attr("dy", 6).text("g");
}

panels.forEach(drawPanel);
</script>
</body>
</html>
